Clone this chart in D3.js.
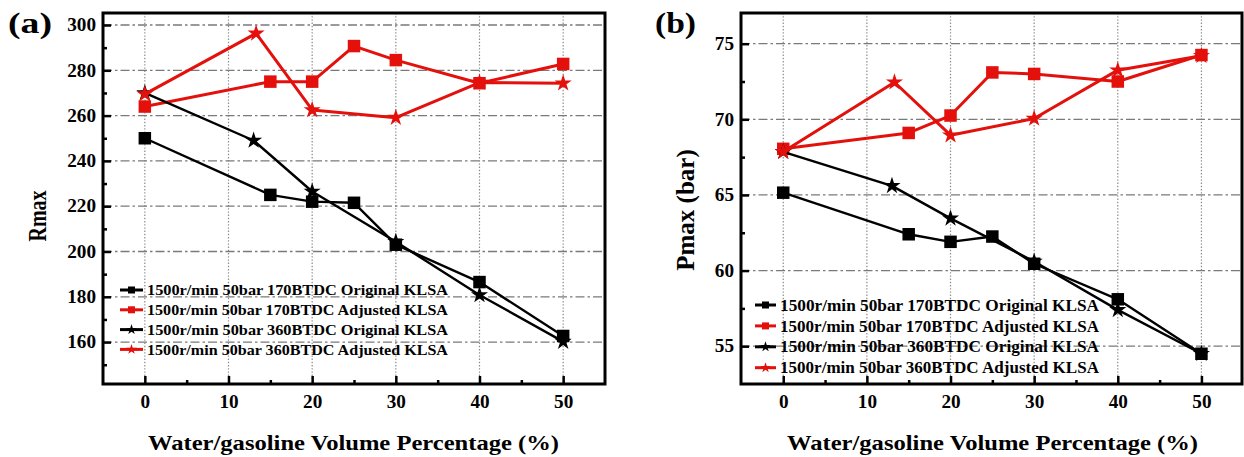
<!DOCTYPE html>
<html>
<head>
<meta charset="utf-8">
<script src="https://cdn.jsdelivr.net/npm/d3@7"></script>
<style>
  html, body { margin: 0; padding: 0; background: #fff; }
  svg text { font-family: "Liberation Serif", "Times New Roman", serif; font-weight: bold; fill: #000; }
</style>
</head>
<body>
<svg id="chart" width="1244" height="457"></svg>
<script>
// Water/gasoline volume percentage (%) for each measured point
const squareX = [0, 15, 20, 25, 30, 40, 50];
const starXOrig = [0, 13, 20, 30, 40, 50];
const starXAdj = [0, 13.3, 20, 30, 40, 50];

// Panel (a): Rmax
const rmaxOrig170 = [250, 225, 222, 221.5, 203, 186.5, 162.7];
const rmaxAdj170 = [264, 275, 275, 290.7, 284.5, 274.3, 282.8];
const rmaxOrig360 = [270, 249, 226.5, 204.3, 180.8, 160.2];
const rmaxAdj360 = [269.5, 296.3, 262.5, 259.1, 274.6, 274.3];

// Panel (b): Pmax (bar)
const pmaxOrig170 = [65.15, 62.4, 61.9, 62.25, 60.45, 58.1, 54.5];
const pmaxAdj170 = [68.05, 69.1, 70.25, 73.1, 73.0, 72.5, 74.25];
const pmaxOrig360 = [67.85, 65.6, 63.45, 60.6, 57.4, 54.5];
const pmaxAdj360 = [67.85, 72.45, 68.95, 70.05, 73.25, 74.2];

const seriesNames = [
  "1500r/min 50bar 170BTDC Original KLSA",
  "1500r/min 50bar 170BTDC Adjusted KLSA",
  "1500r/min 50bar 360BTDC Original KLSA",
  "1500r/min 50bar 360BTDC Adjusted KLSA"
];

const xTicks = [0, 10, 20, 30, 40, 50];
const xMinorTicks = [5, 15, 25, 35, 45];
const rmaxTicks = [160, 180, 200, 220, 240, 260, 280, 300];
const rmaxMinorTicks = [150, 170, 190, 210, 230, 250, 270, 290];
const pmaxTicks = [55, 60, 65, 70, 75];
const pmaxMinorTicks = [57.5, 62.5, 67.5, 72.5];

const xTitle = "Water/gasoline Volume Percentage (%)";

const RED = "#e3100c";
const BLACK = "#000";

const svg = d3.select("#chart");

const starSym = d3.symbol().type(d3.symbolStar);
const squareSym = d3.symbol().type(d3.symbolSquare);
const starSize = r => (r * r) / 0.8908130915292852;

// widen a text run to a given length (the lettering is set slightly wide)
function widen(sel, len) {
  sel.attr("textLength", len).attr("lengthAdjust", "spacingAndGlyphs");
}

function panel(opts) {
  const { x0, x1, y0, y1, xDomain, yDomain, yTicks, yMinor, yLabel, tag, tagX, tagLen,
          yLabelX, yLabelY, yLabelSize, yLabelScale, titleX, series, legend } = opts;
  const x = d3.scaleLinear().domain(xDomain).range([x0, x1]);
  const y = d3.scaleLinear().domain(yDomain).range([y1, y0]);
  const g = svg.append("g");

  // grid: dotted verticals, dash-dot horizontals
  g.append("g").selectAll("line").data(xTicks).join("line")
    .attr("x1", d => x(d)).attr("x2", d => x(d))
    .attr("y1", y0).attr("y2", y1)
    .attr("stroke", "#8a8a8a").attr("stroke-width", 1.2)
    .attr("stroke-dasharray", "1.4,1.8");
  g.append("g").selectAll("line").data(yTicks).join("line")
    .attr("x1", x0).attr("x2", x1)
    .attr("y1", d => y(d)).attr("y2", d => y(d))
    .attr("stroke", "#7a7a7a").attr("stroke-width", 1.3)
    .attr("stroke-dasharray", "9,3,2.5,3");

  // axes (ticks point inward)
  const ax = g.append("g").attr("transform", `translate(0,${y1})`)
    .call(d3.axisBottom(x).tickValues(xTicks).tickSize(-8).tickPadding(11).tickFormat(d3.format("d")));
  g.append("g").attr("transform", `translate(0,${y1})`)
    .call(d3.axisBottom(x).tickValues(xMinorTicks).tickSize(-4).tickFormat(""));
  const ay = g.append("g").attr("transform", `translate(${x0},0)`)
    .call(d3.axisLeft(y).tickValues(yTicks).tickSize(-8).tickPadding(7).tickFormat(d3.format("d")));
  g.append("g").attr("transform", `translate(${x0},0)`)
    .call(d3.axisLeft(y).tickValues(yMinor).tickSize(-4).tickFormat(""));
  g.selectAll(".domain").remove();
  g.selectAll(".tick line").attr("stroke", "#000").attr("stroke-width", 2.5);
  [ax, ay].forEach(a => a.selectAll("text")
    .style("font-size", "18px")
    .each(function (d) { widen(d3.select(this), String(d).length * 9.6); }));

  // frame
  g.append("rect").attr("x", x0).attr("y", y0)
    .attr("width", x1 - x0).attr("height", y1 - y0)
    .attr("fill", "none").attr("stroke", "#000").attr("stroke-width", 3);

  // series lines and markers
  const line = d3.line().x(d => x(d[0])).y(d => y(d[1]));
  series.forEach(s => {
    const pts = s.xs.map((v, i) => [v, s.ys[i]]);
    g.append("path").datum(pts).attr("d", line)
      .attr("fill", "none").attr("stroke", s.color)
      .attr("stroke-width", s.color === BLACK ? 2.4 : 3)
      .attr("stroke-linejoin", "round");
    g.append("g").selectAll("path").data(pts).join("path")
      .attr("transform", d => `translate(${x(d[0])},${y(d[1])})`)
      .attr("d", s.shape === "star" ? starSym.size(starSize(9))() : squareSym.size(12.5 * 12.5)())
      .attr("fill", s.color);
  });

  // legend
  const lg = g.append("g");
  series.forEach((s, i) => {
    const ly = legend.y + i * legend.dy;
    lg.append("line").attr("x1", legend.x).attr("x2", legend.x + legend.len)
      .attr("y1", ly).attr("y2", ly).attr("stroke", s.color).attr("stroke-width", 3);
    lg.append("path")
      .attr("transform", `translate(${legend.x + legend.len / 2},${ly})`)
      .attr("d", s.shape === "star" ? starSym.size(starSize(5.5))() : squareSym.size(49)())
      .attr("fill", s.color);
    lg.append("text").attr("x", legend.x + legend.len + 4).attr("y", ly)
      .attr("dy", "0.35em").style("font-size", legend.fs + "px").text(seriesNames[i])
      .call(widen, legend.textLen);
  });

  // titles
  svg.append("text").attr("x", titleX).attr("y", 450)
    .style("font-size", "21px").text(xTitle).call(widen, 411);
  svg.append("text")
    .attr("transform", `translate(${yLabelX},${yLabelY}) scale(${yLabelScale},1) rotate(-90)`)
    .attr("text-anchor", "middle").style("font-size", yLabelSize + "px").text(yLabel);
  svg.append("text").attr("x", tagX).attr("y", 33).style("font-size", "29px").text(tag)
    .call(widen, tagLen);
}

panel({
  x0: 103, x1: 605, y0: 13, y1: 384,
  xDomain: [-5, 55], yDomain: [141.5, 305.3],
  yTicks: rmaxTicks, yMinor: rmaxMinorTicks,
  yLabel: "Rmax", tag: "(a)", tagX: 8, tagLen: 44,
  yLabelX: 46, yLabelY: 216, yLabelSize: 20, yLabelScale: 1.22, titleX: 148,
  series: [
    { xs: squareX, ys: rmaxOrig170, color: BLACK, shape: "square" },
    { xs: squareX, ys: rmaxAdj170, color: RED, shape: "square" },
    { xs: starXOrig, ys: rmaxOrig360, color: BLACK, shape: "star" },
    { xs: starXAdj, ys: rmaxAdj360, color: RED, shape: "star" }
  ],
  legend: { x: 120, y: 290, dy: 19.8, len: 23, fs: 15, textLen: 301 }
});

panel({
  x0: 741, x1: 1242, y0: 13, y1: 384,
  xDomain: [-5.05, 54.85], yDomain: [52.5, 77.03],
  yTicks: pmaxTicks, yMinor: pmaxMinorTicks,
  yLabel: "Pmax (bar)", tag: "(b)", tagX: 655, tagLen: 41,
  yLabelX: 694, yLabelY: 210, yLabelSize: 25, yLabelScale: 1, titleX: 787,
  series: [
    { xs: squareX, ys: pmaxOrig170, color: BLACK, shape: "square" },
    { xs: squareX, ys: pmaxAdj170, color: RED, shape: "square" },
    { xs: starXOrig, ys: pmaxOrig360, color: BLACK, shape: "star" },
    { xs: starXAdj, ys: pmaxAdj360, color: RED, shape: "star" }
  ],
  legend: { x: 755, y: 305, dy: 20.9, len: 21, fs: 16, textLen: 319 }
});
</script>
</body>
</html>
